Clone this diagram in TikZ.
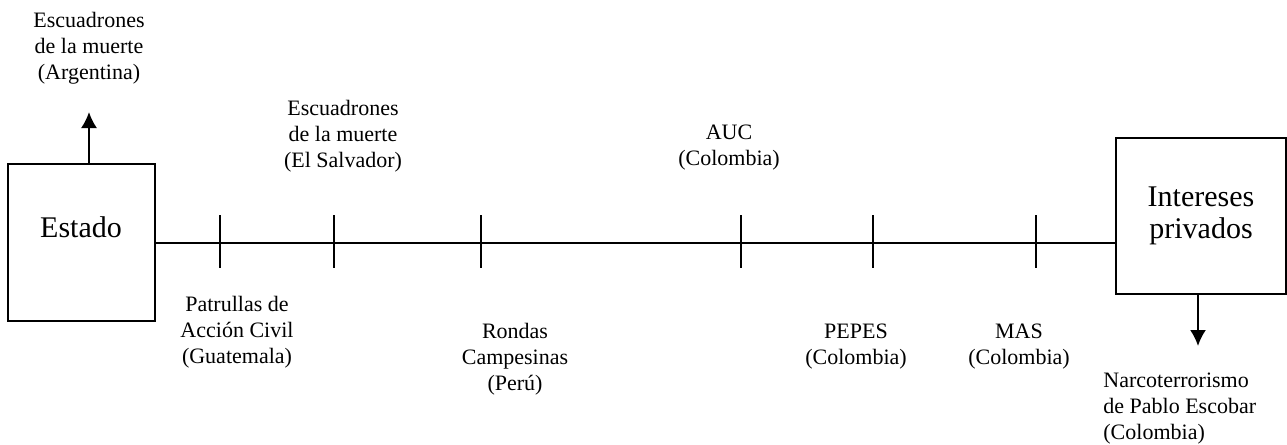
\documentclass[tikz,border=0pt]{standalone}
\usepackage{fontspec}
\setmainfont{Liberation Serif}
\usetikzlibrary{arrows.meta,calc}
\begin{document}
\begin{tikzpicture}[x=0.5pt,y=-0.5pt,
  lbl/.style={align=center,font=\fontsize{11}{13}\selectfont,inner sep=0pt},
  big/.style={align=center,font=\fontsize{15}{16}\selectfont,inner sep=0pt},
  box/.style={draw,line width=1pt,inner sep=0pt},
  conn/.style={line width=1pt},
  arr/.style={line width=1pt,-{Latex[length=8pt,width=8pt]}}]
\useasboundingbox (0,0) rectangle (1287,445);
% boxes
\node[box,minimum width=73.5pt,minimum height=78.5pt] (estado) at (81.5,242.5) {};
\node[box,minimum width=85pt,minimum height=78pt] (intereses) at (1201,216) {};
\node[big] (estadoT) at (81,227) {Estado};
\node[big] (interesesT) at (1201,216) {Intereses\\privados};
% main line
\coordinate (lineEnd) at (estado.east -| intereses.west);
\draw[conn] (estado.east) -- (lineEnd);
% ticks
\foreach \n/\x in {t1/220,t2/334,t3/481,t4/741,t5/873,t6/1036}{
  \coordinate (\n) at (\x,242);
  \draw[conn] (\n) ++(0,-27) -- ++(0,53);
}
% arrows
\coordinate (estTop) at (89,164);
\coordinate (argTip) at (89,112);
\draw[arr] (estTop) -- (argTip);
\coordinate (intBot) at (1198,294);
\coordinate (narTip) at (1198,346);
\draw[arr] (intBot) -- (narTip);
% labels
\node[lbl] (arg) at (89,48) {Escuadrones\\de la muerte\\(Argentina)};
\node[lbl] (salv) at (343,136) {Escuadrones\\de la muerte\\(El Salvador)};
\node[lbl] (guat) at (237,332) {Patrullas de\\Acción Civil\\(Guatemala)};
\node[lbl] (peru) at (515,359) {Rondas\\Campesinas\\(Perú)};
\node[lbl] (auc) at (729,148) {AUC\\(Colombia)};
\node[lbl] (pepes) at (856,347) {PEPES\\(Colombia)};
\node[lbl] (mas) at (1019,347) {MAS\\(Colombia)};
\node[lbl,align=left,anchor=west] (narco) at (1103,409) {Narcoterrorismo\\de Pablo Escobar\\(Colombia)};
\end{tikzpicture}
\end{document}
